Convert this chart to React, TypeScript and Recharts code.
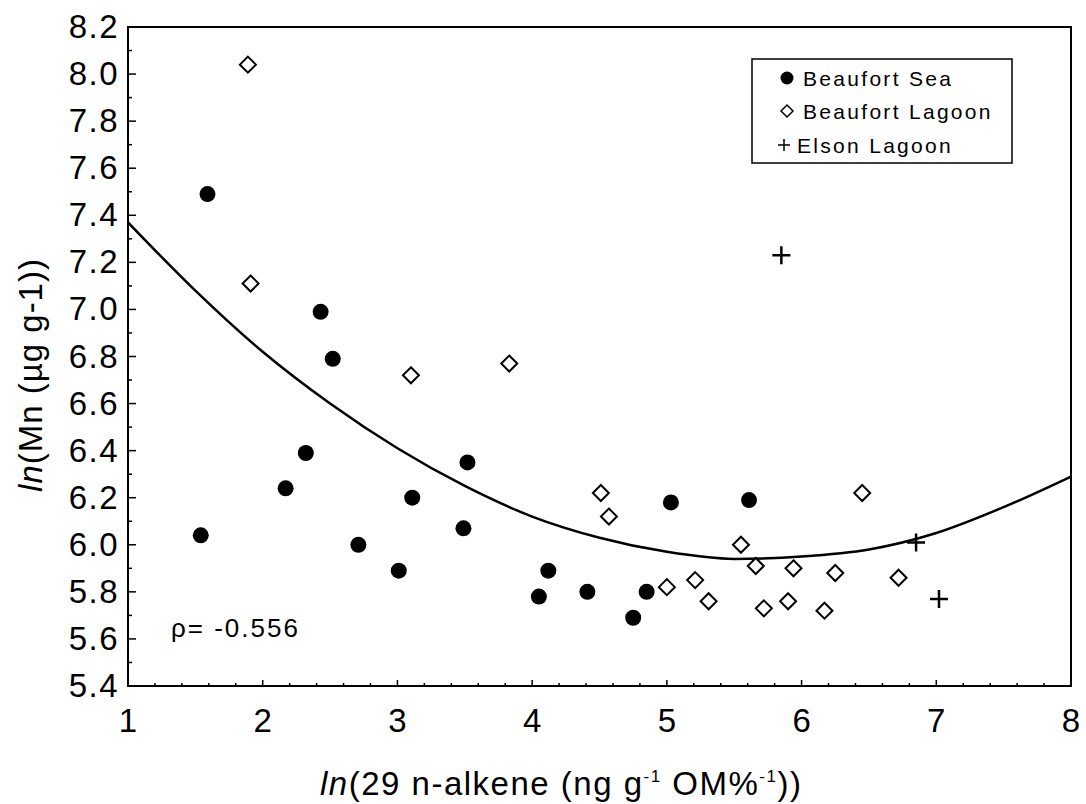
import React from 'react';
import {
  ComposedChart,
  Scatter,
  Line,
  XAxis,
  YAxis,
  ReferenceArea,
  Label,
} from 'recharts';

// values
const beaufortSea = [
  { x: 1.54, y: 6.04 },
  { x: 1.59, y: 7.49 },
  { x: 2.17, y: 6.24 },
  { x: 2.32, y: 6.39 },
  { x: 2.43, y: 6.99 },
  { x: 2.52, y: 6.79 },
  { x: 2.71, y: 6.0 },
  { x: 3.01, y: 5.89 },
  { x: 3.11, y: 6.2 },
  { x: 3.49, y: 6.07 },
  { x: 3.52, y: 6.35 },
  { x: 4.05, y: 5.78 },
  { x: 4.12, y: 5.89 },
  { x: 4.41, y: 5.8 },
  { x: 4.75, y: 5.69 },
  { x: 4.85, y: 5.8 },
  { x: 5.03, y: 6.18 },
  { x: 5.61, y: 6.19 },
];

const beaufortLagoon = [
  { x: 1.89, y: 8.04 },
  { x: 1.91, y: 7.11 },
  { x: 3.1, y: 6.72 },
  { x: 3.83, y: 6.77 },
  { x: 4.51, y: 6.22 },
  { x: 4.57, y: 6.12 },
  { x: 5.0, y: 5.82 },
  { x: 5.21, y: 5.85 },
  { x: 5.31, y: 5.76 },
  { x: 5.55, y: 6.0 },
  { x: 5.66, y: 5.91 },
  { x: 5.72, y: 5.73 },
  { x: 5.9, y: 5.76 },
  { x: 5.94, y: 5.9 },
  { x: 6.17, y: 5.72 },
  { x: 6.25, y: 5.88 },
  { x: 6.45, y: 6.22 },
  { x: 6.72, y: 5.86 },
];

const elsonLagoon = [
  { x: 5.85, y: 7.23 },
  { x: 6.85, y: 6.01 },
  { x: 7.02, y: 5.77 },
];

// fitted curve, read every 0.5
const fitCurve = [
  { x: 1, y: 7.37 },
  { x: 1.5, y: 7.08 },
  { x: 2, y: 6.82 },
  { x: 2.5, y: 6.6 },
  { x: 3, y: 6.41 },
  { x: 3.5, y: 6.25 },
  { x: 4, y: 6.12 },
  { x: 4.5, y: 6.03 },
  { x: 5, y: 5.97 },
  { x: 5.5, y: 5.94 },
  { x: 6, y: 5.95 },
  { x: 6.5, y: 5.98 },
  { x: 7, y: 6.05 },
  { x: 7.5, y: 6.16 },
  { x: 8, y: 6.29 },
];

const seriesNames = ['Beaufort Sea', 'Beaufort Lagoon', 'Elson Lagoon'];
const rhoText = 'ρ= -0.556';

const xTicks = [
  1, 1.2, 1.4, 1.6, 1.8, 2, 2.2, 2.4, 2.6, 2.8, 3, 3.2, 3.4, 3.6, 3.8, 4, 4.2, 4.4, 4.6, 4.8,
  5, 5.2, 5.4, 5.6, 5.8, 6, 6.2, 6.4, 6.6, 6.8, 7, 7.2, 7.4, 7.6, 7.8, 8,
];
const yTicks = [
  5.4, 5.5, 5.6, 5.7, 5.8, 5.9, 6.0, 6.1, 6.2, 6.3, 6.4, 6.5, 6.6, 6.7, 6.8, 6.9, 7.0, 7.1,
  7.2, 7.3, 7.4, 7.5, 7.6, 7.7, 7.8, 7.9, 8.0, 8.1, 8.2,
];

const FONT = "Arial, 'Liberation Sans', sans-serif";
const Y_GAP = 11;
const X_GAP = 10;

const YTick = ({ x, y, payload }: any) => {
  const v = payload.value;
  const major = Math.round(v * 10) % 2 === 0;
  const ax = x + Y_GAP;
  return (
    <g>
      <line x1={ax} x2={ax + (major ? 8 : 4)} y1={y} y2={y} stroke="#000" strokeWidth={1.5} />
      {major && (
        <text x={x + 2} y={y} dy={11} textAnchor="end" fontSize={33} fontFamily={FONT} letterSpacing={1.5} fill="#000">
          {v.toFixed(1)}
        </text>
      )}
    </g>
  );
};

const XTick = ({ x, y, payload }: any) => {
  const v = payload.value;
  const major = Math.abs(v - Math.round(v)) < 1e-6;
  const ay = y - X_GAP;
  return (
    <g>
      <line x1={x} x2={x} y1={ay} y2={ay - (major ? 6 : 3)} stroke="#000" strokeWidth={1.5} />
      {major && (
        <text x={x} y={ay + 46} textAnchor="middle" fontSize={33} fontFamily={FONT} fill="#000">
          {String(v)}
        </text>
      )}
    </g>
  );
};

const XTitle = () => (
  <g>
    <text x={320} y={795} fontSize={33} fontFamily={FONT} letterSpacing={1.5} fill="#000">
      <tspan fontStyle="italic">ln</tspan>
      <tspan>(29 n-alkene (ng g</tspan>
      <tspan dy={-13} fontSize={17}>-1</tspan>
      <tspan dy={13}> OM%</tspan>
      <tspan dy={-13} fontSize={17}>-1</tspan>
      <tspan dy={13}>))</tspan>
    </text>
    <text x={171} y={637} fontSize={26} fontFamily={FONT} letterSpacing={2} fill="#000">
      {rhoText}
    </text>
  </g>
);

const YTitle = () => (
  <text
    transform="translate(42, 375) rotate(-90)"
    textAnchor="middle"
    fontSize={33}
    fontFamily={FONT}
    letterSpacing={1}
    fill="#000"
  >
    <tspan fontStyle="italic">ln</tspan>
    <tspan>(Mn (µg g-1))</tspan>
  </text>
);

const Dot = ({ cx, cy }: any) => <circle cx={cx} cy={cy} r={8} fill="#000" />;

const Diamond = ({ cx, cy }: any) => (
  <polygon
    points={`${cx},${cy - 8} ${cx + 8},${cy} ${cx},${cy + 8} ${cx - 8},${cy}`}
    fill="#fff"
    stroke="#000"
    strokeWidth={2}
  />
);

const Plus = ({ cx, cy }: any) => (
  <path d={`M${cx - 9},${cy}H${cx + 9}M${cx},${cy - 9}V${cy + 9}`} stroke="#000" strokeWidth={2.5} />
);

const LegendBox = () => {
  const rows = [20, 53, 87];
  return (
    <svg
      width={262}
      height={106}
      style={{ position: 'absolute', left: 751, top: 58 }}
    >
      <rect x={1} y={1} width={260} height={104} fill="#fff" stroke="#000" strokeWidth={1.5} />
      <circle cx={36} cy={rows[0]} r={6.5} fill="#000" />
      <polygon
        points={`36,${rows[1] - 6} 42,${rows[1]} 36,${rows[1] + 6} 30,${rows[1]}`}
        fill="#fff"
        stroke="#000"
        strokeWidth={1.5}
      />
      <path d={`M27,${rows[2]}H39M33,${rows[2] - 6}V${rows[2] + 6}`} stroke="#000" strokeWidth={1.5} />
      {seriesNames.map((name, i) => (
        <text
          key={name}
          x={i === 2 ? 46 : 52}
          y={rows[i] + 8}
          fontSize={21}
          fontFamily={FONT}
          letterSpacing={2.3}
          fill="#000"
        >
          {name}
        </text>
      ))}
    </svg>
  );
};

export default function App() {
  return (
    <div style={{ position: 'absolute', left: 0, top: 0, width: 1086, height: 804, background: '#fff' }}>
      <ComposedChart width={1086} height={804} margin={{ top: 27, right: 15, bottom: 0, left: 0 }}>
        <XAxis
          type="number"
          dataKey="x"
          domain={[1, 8]}
          ticks={xTicks}
          interval={0}
          allowDataOverflow
          height={118}
          tickSize={0}
          tickMargin={X_GAP}
          tickLine={false}
          axisLine={{ stroke: '#000', strokeWidth: 2 }}
          tick={<XTick />}
        >
          <Label content={<XTitle />} />
        </XAxis>
        <YAxis
          type="number"
          dataKey="y"
          domain={[5.4, 8.2]}
          ticks={yTicks}
          interval={0}
          allowDataOverflow
          width={128}
          tickSize={0}
          tickMargin={Y_GAP}
          tickLine={false}
          axisLine={{ stroke: '#000', strokeWidth: 2 }}
          tick={<YTick />}
        >
          <Label content={<YTitle />} />
        </YAxis>
        <ReferenceArea x1={1} x2={8} y1={5.4} y2={8.2} fill="none" stroke="#000" strokeWidth={2} ifOverflow="visible" />
        <Line
          data={fitCurve}
          dataKey="y"
          type="monotone"
          stroke="#000"
          strokeWidth={2.5}
          dot={false}
          activeDot={false}
          isAnimationActive={false}
        />
        <Scatter name={seriesNames[0]} data={beaufortSea} shape={<Dot />} isAnimationActive={false} />
        <Scatter name={seriesNames[1]} data={beaufortLagoon} shape={<Diamond />} isAnimationActive={false} />
        <Scatter name={seriesNames[2]} data={elsonLagoon} shape={<Plus />} isAnimationActive={false} />
      </ComposedChart>
      <LegendBox />
    </div>
  );
}
